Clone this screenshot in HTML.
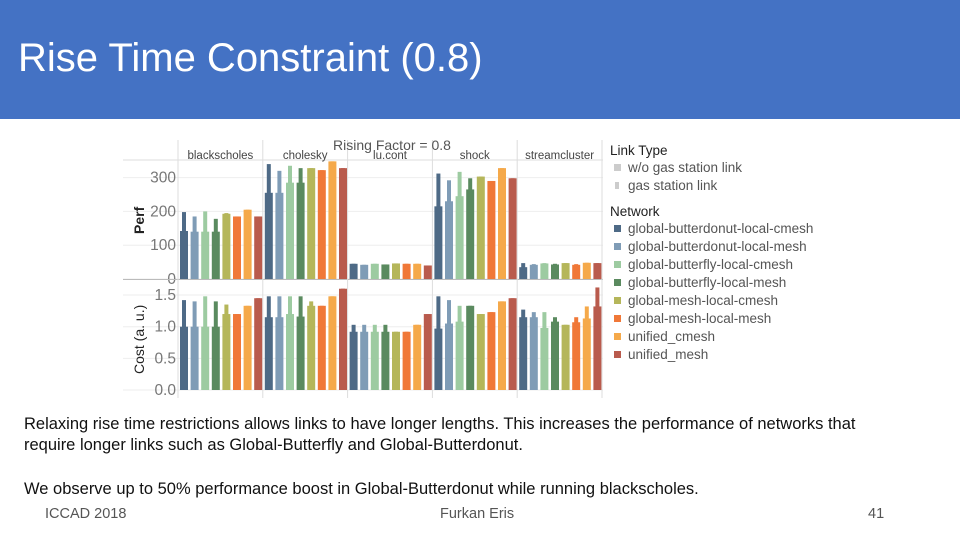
<!DOCTYPE html>
<html><head><meta charset="utf-8"><style>
body{margin:0;width:960px;height:540px;overflow:hidden;background:#fff;font-family:"Liberation Sans",sans-serif;position:relative}
.hdr{position:absolute;left:0;top:0;width:960px;height:119px;background:#4472c4}
.title{position:absolute;left:18px;top:36px;color:#fff;font-size:40px}
.p{position:absolute;left:24px;font-size:16.5px;color:#111;line-height:21px}
.foot{position:absolute;top:506px;font-size:14.5px;color:#555}
</style></head><body>
<div class="hdr"></div>
<div class="title">Rise Time Constraint (0.8)</div>
<svg id="chart" width="960" height="540" style="position:absolute;left:0;top:0" font-family="Liberation Sans, sans-serif"></svg>
<div class="p" style="top:414px">Relaxing rise time restrictions allows links to have longer lengths. This increases the performance of networks that<br>require longer links such as Global-Butterfly and Global-Butterdonut.</div>
<div class="p" style="top:479px">We observe up to 50% performance boost in Global-Butterdonut while running blackscholes.</div>
<div class="foot" style="left:45px">ICCAD 2018</div>
<div class="foot" style="left:440px">Furkan Eris</div>
<div class="foot" style="left:868px">41</div>
<script>
const benchmarks=["blackscholes","cholesky","lu.cont","shock","streamcluster"];
const networks=["global-butterdonut-local-cmesh","global-butterdonut-local-mesh","global-butterfly-local-cmesh","global-butterfly-local-mesh","global-mesh-local-cmesh","global-mesh-local-mesh","unified_cmesh","unified_mesh"];
const colors=["#4e6a86","#7f9cb6","#9dcba1","#5a8a5f","#b5b65a","#f07838","#f5a94a","#b95b4d"];
const perfBase=[[142,140,140,140,193,185,205,185],[255,255,285,285,328,322,348,328],[45,42,45,43,46,45,45,40],[215,230,245,265,303,290,328,298],[35,42,46,43,47,42,48,47]];
const perfGas=[[198,185,200,178,195,185,205,185],[340,320,335,328,328,322,348,328],[45,42,45,43,46,45,45,40],[312,292,317,298,303,290,328,298],[47,44,47,45,47,44,48,47]];
const costBase=[[1.0,1.0,1.0,1.0,1.2,1.2,1.33,1.45],[1.15,1.15,1.2,1.16,1.33,1.33,1.48,1.6],[0.92,0.92,0.92,0.92,0.92,0.92,1.03,1.2],[0.97,1.05,1.08,1.33,1.2,1.23,1.4,1.45],[1.15,1.15,0.98,1.08,1.03,1.07,1.13,1.32]];
const costGas=[[1.42,1.4,1.48,1.4,1.35,1.2,1.33,1.45],[1.48,1.48,1.48,1.48,1.4,1.33,1.48,1.6],[1.03,1.03,1.03,1.03,0.92,0.92,1.03,1.2],[1.48,1.42,1.33,1.33,1.2,1.23,1.4,1.45],[1.27,1.23,1.23,1.15,1.03,1.15,1.32,1.62]];
const perfTicks=[0,100,200,300];
const costTicks=[0.0,0.5,1.0,1.5];
const svg=document.getElementById('chart');
const NS='http://www.w3.org/2000/svg';
function mk(t,a,p){const e=document.createElementNS(NS,t);for(const k in a)e.setAttribute(k,a[k]);(p||svg).appendChild(e);return e;}
const X0=179,FW=84.8,PITCH=FW/8;
const yPerf=v=>279-v*0.338;
const yCost=v=>390-v*63.3;
function fx(f){return X0+f*FW;}
perfTicks.forEach(t=>{const l=mk('line',{x1:123,x2:603,y1:yPerf(t),y2:yPerf(t),stroke:'#eee'});
 const tx=mk('text',{x:176,y:yPerf(t)+5,'text-anchor':'end','font-size':15.5,fill:'#777'});tx.textContent=t;});
costTicks.forEach(t=>{const l=mk('line',{x1:123,x2:603,y1:yCost(t),y2:yCost(t),stroke:'#eee'});
 const tx=mk('text',{x:176,y:yCost(t)+5,'text-anchor':'end','font-size':15.5,fill:'#777'});tx.textContent=t.toFixed(1);});
mk('line',{x1:123,x2:603,y1:160,y2:160,stroke:'#ddd'});
mk('line',{x1:123,x2:603,y1:279.5,y2:279.5,stroke:'#bbb'});
for(let f=0;f<=5;f++){mk('line',{x1:fx(f)-1,x2:fx(f)-1,y1:140,y2:398,stroke:'#ddd'});}
const ft=mk('text',{x:392,y:150,'text-anchor':'middle','font-size':14,fill:'#555'});ft.textContent='Rising Factor = 0.8';
benchmarks.forEach((b,f)=>{const t=mk('text',{x:fx(f)+FW/2-1,y:159,'text-anchor':'middle','font-size':11.5,fill:'#444'});t.textContent=b;});
const yl1=mk('text',{x:0,y:0,'font-size':14,fill:'#222','font-weight':'bold',transform:'translate(144,234) rotate(-90)'});yl1.textContent='Perf';
const yl2=mk('text',{x:0,y:0,'font-size':14,fill:'#222',transform:'translate(144,374) rotate(-90)'});yl2.textContent='Cost (a. u.)';
function bars(base,gas,yf,y0,nm){
 benchmarks.forEach((b,f)=>{networks.forEach((n,i)=>{
  const x=fx(f)+i*PITCH+1;
  const g=mk('rect',{x:x+2,width:4,y:yf(gas[f][i]),height:y0-yf(gas[f][i]),fill:colors[i]});
  
  const r=mk('rect',{x:x,width:8,y:yf(base[f][i]),height:y0-yf(base[f][i]),fill:colors[i]});
  
 });});
}
bars(perfBase,perfGas,yPerf,yPerf(0),'perf');
bars(costBase,costGas,yCost,yCost(0),'cost');
function lt(x,y,s,fs,c,w){const t=mk('text',{x:x,y:y,'font-size':fs,fill:c,'font-weight':w||'normal'});t.textContent=s;return t;}
let t=lt(610,155,'Link Type',13.5,'#222');
mk('rect',{x:614,y:164,width:7,height:7,fill:'#ccc'});t=lt(628,172,'w/o gas station link',13.5,'#555');
mk('rect',{x:615,y:182,width:4,height:7,fill:'#ccc'});t=lt(628,190,'gas station link',13.5,'#555');
t=lt(610,216,'Network',13.5,'#222');
networks.forEach((n,i)=>{const y=229+i*18;mk('rect',{x:614,y:y-4,width:7,height:7,fill:colors[i]});
 const e=lt(628,y+4,n,13.5,'#555');});
</script>
</body></html>
